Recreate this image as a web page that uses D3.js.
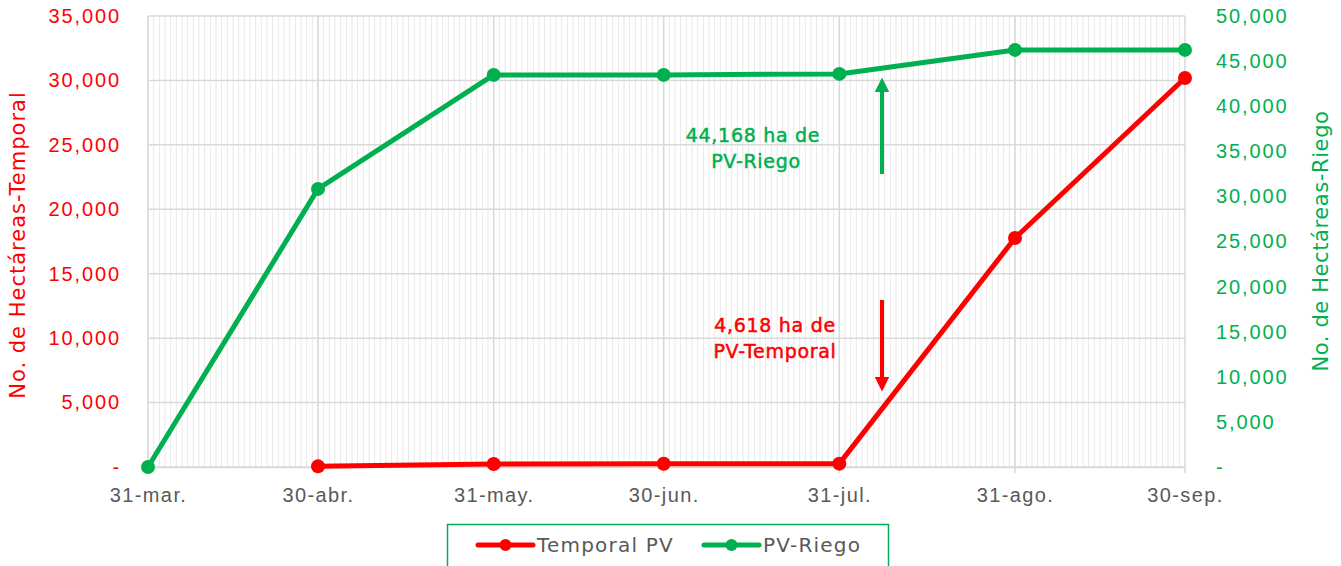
<!DOCTYPE html>
<html>
<head>
<meta charset="utf-8">
<script src="https://cdn.jsdelivr.net/npm/d3@7"></script>
<style>
  body { margin: 0; background: #fff; }
  svg { display: block; font-family: "DejaVu Sans", sans-serif; }
</style>
</head>
<body>
<div id="chart"></div>
<script>
// data
const dates = ["2023-03-31", "2023-04-30", "2023-05-31", "2023-06-30", "2023-07-31", "2023-08-31", "2023-09-30"];
const tickLabels = ["31-mar.", "30-abr.", "31-may.", "30-jun.", "31-jul.", "31-ago.", "30-sep."];
const temporal = [null, 50, 230, 250, 260, 17770, 30190];
const riego = [0, 30830, 43470, 43470, 43580, 46240, 46240];
const leftTicks = [0, 5000, 10000, 15000, 20000, 25000, 30000, 35000];
const rightTicks = [0, 5000, 10000, 15000, 20000, 25000, 30000, 35000, 40000, 45000, 50000];

const red = "#ff0000", green = "#00b050", gray = "#595959";
const width = 1341, height = 566;
const margin = { top: 16, right: 156, bottom: 99, left: 148 };

const parse = d3.utcParse("%Y-%m-%d");
const dd = dates.map(parse);

const svg = d3.select("#chart").append("svg")
    .attr("width", width)
    .attr("height", height);

const x = d3.scaleUtc()
    .domain([dd[0], dd[dd.length - 1]])
    .range([margin.left, width - margin.right]);
const yL = d3.scaleLinear().domain([0, 35000]).range([height - margin.bottom, margin.top]);
const yR = d3.scaleLinear().domain([0, 50000]).range([height - margin.bottom, margin.top]);

const fmt = d => d === 0 ? "-" : d3.format(",")(d);

// minor daily gridlines
svg.append("g")
    .selectAll("line")
    .data(d3.utcDay.range(dd[0], dd[dd.length - 1]))
    .join("line")
    .attr("x1", d => x(d)).attr("x2", d => x(d))
    .attr("y1", margin.top).attr("y2", yL(0))
    .attr("stroke", "#e8e8e8")
    .attr("stroke-width", 1);

// horizontal major gridlines
svg.append("g")
    .selectAll("line")
    .data(leftTicks)
    .join("line")
    .attr("x1", margin.left).attr("x2", width - margin.right)
    .attr("y1", d => yL(d)).attr("y2", d => yL(d))
    .attr("stroke", "#d9d9d9")
    .attr("stroke-width", 1.5);

// vertical major gridlines + ticks
svg.append("g")
    .selectAll("line")
    .data(dd)
    .join("line")
    .attr("x1", d => x(d)).attr("x2", d => x(d))
    .attr("y1", margin.top).attr("y2", yL(0) + 6)
    .attr("stroke", "#d9d9d9")
    .attr("stroke-width", 1.5);

// x axis
const xAxis = svg.append("g")
    .attr("transform", `translate(0,${yL(0)})`)
    .call(d3.axisBottom(x).tickValues(dd).tickSize(0).tickPadding(21)
        .tickFormat((d, i) => tickLabels[i]));
xAxis.select(".domain").attr("stroke", "#d9d9d9").attr("stroke-width", 1.5);
xAxis.selectAll("text").attr("fill", gray)
    .style("font-size", "20px").style("letter-spacing", "1.4px");

// left axis
const yAxisL = svg.append("g")
    .attr("transform", `translate(${margin.left},0)`)
    .call(d3.axisLeft(yL).tickValues(leftTicks).tickSize(0).tickPadding(27).tickFormat(fmt));
yAxisL.select(".domain").remove();
yAxisL.selectAll("text").attr("fill", red)
    .style("font-size", "20px").style("letter-spacing", "1.9px");

// right axis
const yAxisR = svg.append("g")
    .attr("transform", `translate(${width - margin.right},0)`)
    .call(d3.axisRight(yR).tickValues(rightTicks).tickSize(0).tickPadding(31).tickFormat(fmt));
yAxisR.select(".domain").remove();
yAxisR.selectAll("text").attr("fill", green)
    .style("font-size", "20px").style("letter-spacing", "1.9px");

// axis titles
svg.append("text")
    .attr("transform", "translate(25,245) rotate(-90)")
    .attr("text-anchor", "middle")
    .attr("fill", red)
    .style("font-size", "21px").style("letter-spacing", "1px")
    .text("No. de Hectáreas-Temporal");
svg.append("text")
    .attr("transform", "translate(1328,241) rotate(-90)")
    .attr("text-anchor", "middle")
    .attr("fill", green)
    .style("font-size", "21px").style("letter-spacing", "0.6px")
    .text("No. de Hectáreas-Riego");

// series
const seriesList = [
    { name: "Temporal PV", values: temporal, y: yL, color: red },
    { name: "PV-Riego", values: riego, y: yR, color: green }
];

seriesList.forEach(s => {
    const pts = dd.map((d, i) => ({ date: d, value: s.values[i] })).filter(p => p.value != null);
    const line = d3.line().x(p => x(p.date)).y(p => s.y(p.value));
    svg.append("path")
        .datum(pts)
        .attr("fill", "none")
        .attr("stroke", s.color)
        .attr("stroke-width", 5)
        .attr("stroke-linejoin", "round")
        .attr("d", line);
    svg.append("g")
        .selectAll("circle")
        .data(pts)
        .join("circle")
        .attr("cx", p => x(p.date))
        .attr("cy", p => s.y(p.value))
        .attr("r", 7)
        .attr("fill", s.color);
});

// annotations
const defs = svg.append("defs");
[["arrG", green], ["arrR", red]].forEach(([id, c]) => {
    defs.append("marker")
        .attr("id", id)
        .attr("viewBox", "0 0 10 10")
        .attr("refX", 2).attr("refY", 5)
        .attr("markerWidth", 3.6).attr("markerHeight", 3.6)
        .attr("orient", "auto")
        .append("path")
        .attr("d", "M0,0 L10,5 L0,10 Z")
        .attr("fill", c);
});

const arrowX = 882;
svg.append("line")
    .attr("x1", arrowX).attr("x2", arrowX)
    .attr("y1", 174).attr("y2", 89)
    .attr("stroke", green).attr("stroke-width", 4)
    .attr("marker-end", "url(#arrG)");
svg.append("line")
    .attr("x1", arrowX).attr("x2", arrowX)
    .attr("y1", 300).attr("y2", 380)
    .attr("stroke", red).attr("stroke-width", 4)
    .attr("marker-end", "url(#arrR)");

const noteG = svg.append("text")
    .attr("text-anchor", "middle")
    .attr("fill", green)
    .attr("stroke", green).attr("stroke-width", 0.5)
    .style("font-size", "19px").style("letter-spacing", "0.7px");
noteG.append("tspan").attr("x", 753).attr("y", 142).text("44,168 ha de");
noteG.append("tspan").attr("x", 756).attr("y", 168).text("PV-Riego");

const noteR = svg.append("text")
    .attr("text-anchor", "middle")
    .attr("fill", red)
    .attr("stroke", red).attr("stroke-width", 0.5)
    .style("font-size", "19px").style("letter-spacing", "0.7px");
noteR.append("tspan").attr("x", 775).attr("y", 332).text("4,618 ha de");
noteR.append("tspan").attr("x", 775).attr("y", 358).text("PV-Temporal");

// legend
const legend = svg.append("g");
legend.append("rect")
    .attr("x", 447.5).attr("y", 524.5)
    .attr("width", 441).attr("height", 60)
    .attr("fill", "#fff")
    .attr("stroke", green)
    .attr("stroke-width", 1.5);
const legendX = [478, 704];
seriesList.forEach((s, i) => {
    const g = legend.append("g").attr("transform", `translate(${legendX[i]},545)`);
    g.append("line").attr("x1", 0).attr("x2", 55)
        .attr("stroke", s.color).attr("stroke-width", 5).attr("stroke-linecap", "round");
    g.append("circle").attr("cx", 27.5).attr("r", 6).attr("fill", s.color);
    g.append("text").attr("x", 59).attr("y", 7)
        .attr("fill", gray)
        .style("font-size", "20px").style("letter-spacing", "1.2px")
        .text(s.name);
});
</script>
</body>
</html>
